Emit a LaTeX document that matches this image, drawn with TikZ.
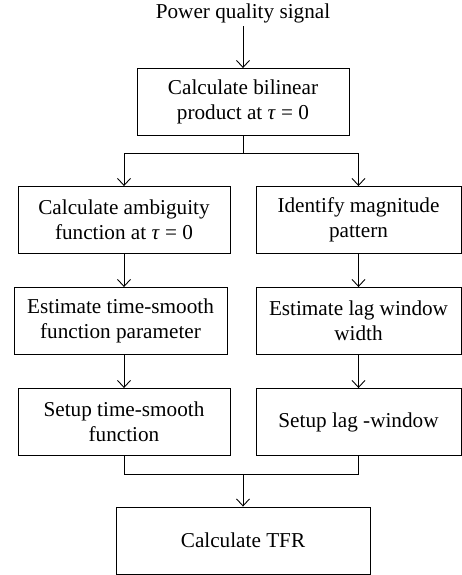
\documentclass[tikz,border=0pt]{standalone}
\usepackage{fontspec}
\setmainfont{Liberation Serif}
\usetikzlibrary{arrows.meta}

\tikzset{
	stepbox/.style={draw, align=center, inner sep=0pt, minimum height=67pt},
	>={Straight Barb[length=7pt,width=13pt]}
}

\begin{document}
\begin{tikzpicture}[x=1pt,y=-1pt,line width=0.9pt,font=\fontsize{21.2}{25}\selectfont]
	\useasboundingbox (0,0) rectangle (462,575);
	
	\node (signal) at (243,13) {Power quality signal};
	\node[stepbox,minimum width=212pt] (bilin) at (243,102) {Calculate bilinear\\product at \textit{τ} = 0};
	
	\node[stepbox,minimum width=212pt] (ambig) at (124,220) {Calculate ambiguity\\function at \textit{τ} = 0};
	\node[stepbox,minimum width=213pt] (estts) at (120.5,321) {Estimate time-smooth\\function parameter};
	\node[stepbox,minimum width=212pt] (setts) at (124,422) {Setup time-smooth\\function};
	
	\node[stepbox,minimum width=205pt] (magn) at (358.5,220) {Identify magnitude\\pattern};
	\node[stepbox,minimum width=205pt] (estlag) at (358.5,321) {Estimate lag window\\width};
	\node[stepbox,minimum width=205pt] (setlag) at (358.5,422) {Setup lag -window};
	
	\node[stepbox,minimum width=254pt] (tfr) at (243,540.5) {Calculate TFR};
	
	\coordinate (split) at (243,153);
	\coordinate (join) at (243,474);
	
	\draw[->] (signal) -- (bilin);
	\draw (bilin.south) -- (split);
	\draw[->] (split) -| (ambig.north);
	\draw[->] (split) -| (magn.north);
	
	\draw[->] (ambig.south) -- (ambig.south |- estts.north);
	\draw[->] (ambig.south |- estts.south) -- (setts.north);
	\draw[->] (magn.south) -- (estlag.north);
	\draw[->] (estlag.south) -- (setlag.north);
	
	\draw (setts.south) |- (join);
	\draw (setlag.south) |- (join);
	\draw[->] (join) -- (tfr.north);
	
\end{tikzpicture}
\end{document}
